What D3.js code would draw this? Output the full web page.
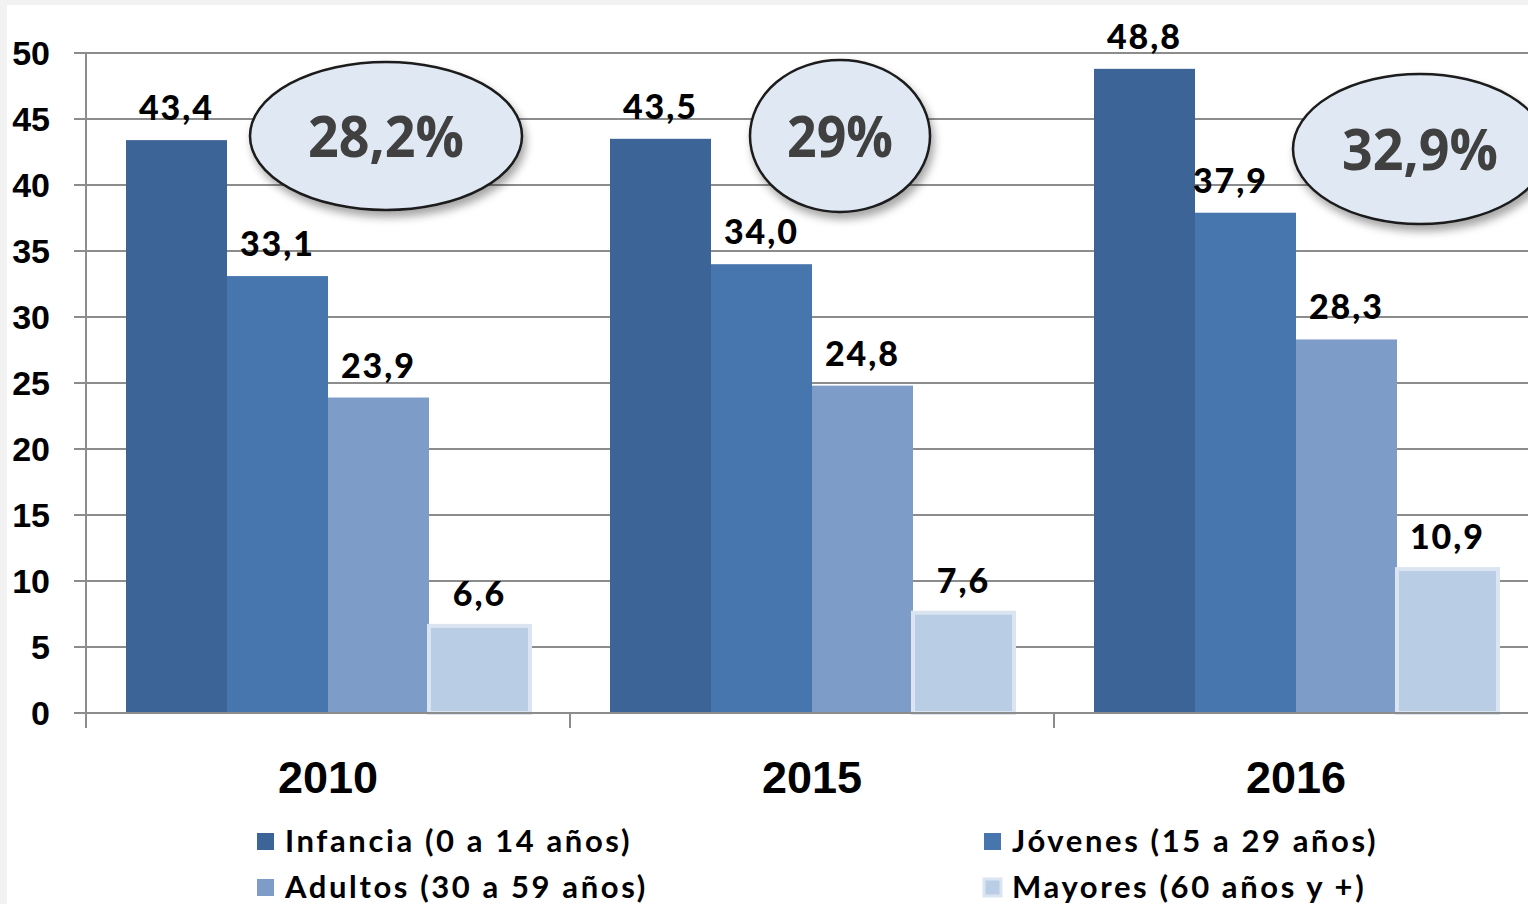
<!DOCTYPE html>
<html>
<head>
<meta charset="utf-8">
<script src="https://cdn.jsdelivr.net/npm/d3@7"></script>
<style>
  html, body { margin: 0; padding: 0; background: #f2f2f2; }
  svg { display: block; }
</style>
</head>
<body>
<div id="chart"></div>
<script>
// chart values
const years = ['2010', '2015', '2016'];
const seriesNames = ['Infancia (0 a 14 años)', 'Jóvenes (15 a 29 años)', 'Adultos (30 a 59 años)', 'Mayores (60 años y +)'];
const infancia = [43.4, 43.5, 48.8];
const jovenes = [33.1, 34.0, 37.9];
const adultos = [23.9, 24.8, 28.3];
const mayores = [6.6, 7.6, 10.9];
const shares = ['28,2%', '29%', '32,9%'];
const yTicks = [0, 5, 10, 15, 20, 25, 30, 35, 40, 45, 50];

const colors = ['#3c6496', '#4776ae', '#7e9cc8', '#b9cde5'];

const width = 1528, height = 904;
const svg = d3.select('#chart').append('svg')
    .attr('width', width)
    .attr('height', height);

// shadow for the bubbles
const defs = svg.append('defs');
const f = defs.append('filter').attr('id', 'shadow')
    .attr('x', '-20%').attr('y', '-20%').attr('width', '150%').attr('height', '160%');
f.append('feDropShadow')
    .attr('dx', 3).attr('dy', 6).attr('stdDeviation', 4)
    .attr('flood-color', '#000').attr('flood-opacity', 0.35);

svg.append('rect')
    .attr('x', 7).attr('y', 5)
    .attr('width', width - 7).attr('height', height - 5)
    .attr('fill', '#fff');

const bandW = 484;
const x0 = d3.scaleBand().domain(years).range([86, 86 + bandW * years.length]);
const x1 = d3.scaleBand().domain(d3.range(4)).range([40, bandW - 40]);
const y = d3.scaleLinear().domain([0, 50]).range([713, 53]);

const rows = years.map((yr, i) => ({
    year: yr,
    values: [infancia[i], jovenes[i], adultos[i], mayores[i]]
}));

// grid lines
svg.append('g').selectAll('line')
    .data(yTicks)
    .enter().append('line')
    .attr('x1', 74).attr('x2', width)
    .attr('y1', d => y(d)).attr('y2', d => y(d))
    .attr('stroke', '#8c8c8c')
    .attr('stroke-width', 2);

// y axis line
svg.append('line')
    .attr('x1', 86).attr('x2', 86)
    .attr('y1', y(50)).attr('y2', 728)
    .attr('stroke', '#8c8c8c').attr('stroke-width', 2);

// category ticks
svg.append('g').selectAll('line')
    .data(years.slice(1))
    .enter().append('line')
    .attr('x1', d => x0(d)).attr('x2', d => x0(d))
    .attr('y1', y(0)).attr('y2', 728)
    .attr('stroke', '#8c8c8c').attr('stroke-width', 2);

// y tick labels
svg.append('g').selectAll('text')
    .data(yTicks)
    .enter().append('text')
    .attr('x', 50)
    .attr('y', d => y(d))
    .attr('dy', '0.36em')
    .attr('text-anchor', 'end')
    .attr('font-family', '"Liberation Sans", Arial, sans-serif')
    .attr('font-weight', 'bold')
    .attr('font-size', 34)
    .attr('fill', '#000')
    .text(d => d);

// bars
const groups = svg.append('g').selectAll('g')
    .data(rows)
    .enter().append('g')
    .attr('transform', d => `translate(${x0(d.year)},0)`);

groups.selectAll('rect')
    .data(d => d.values.map((v, k) => ({ v, k })))
    .enter().append('rect')
    .attr('x', d => x1(d.k))
    .attr('y', d => y(d.v))
    .attr('width', x1.bandwidth())
    .attr('height', d => y(0) - y(d.v))
    .attr('fill', d => colors[d.k])
    .attr('stroke', d => d.k === 3 ? '#dbe5f1' : 'none')
    .attr('stroke-width', d => d.k === 3 ? 4 : 0);

// x axis line over the bars
svg.append('line')
    .attr('x1', 74).attr('x2', width)
    .attr('y1', y(0)).attr('y2', y(0))
    .attr('stroke', '#8c8c8c').attr('stroke-width', 2);

// value labels
const fmt = v => v.toFixed(1).replace('.', ',');
groups.selectAll('text.val')
    .data(d => d.values.map((v, k) => ({ v, k, year: d.year })))
    .enter().append('text')
    .attr('class', 'val')
    .attr('x', d => x1(d.k) + x1.bandwidth() / 2 + (d.year === '2016' && d.k === 1 ? -15 : 0))
    .attr('y', d => y(d.v) - 20)
    .attr('text-anchor', 'middle')
    .attr('font-family', 'Lato, sans-serif')
    .attr('font-weight', 900)
    .attr('font-size', 34)
    .attr('letter-spacing', 2)
    .attr('fill', '#000')
    .text(d => fmt(d.v));

// share bubbles
const bubbleSpots = [
    { dx: 300, cy: 136, rx: 136, ry: 74, tw: 156 },
    { dx: 270, cy: 136, rx: 90, ry: 76, tw: 106 },
    { dx: 366, cy: 149, rx: 127, ry: 75, tw: 156 }
];
const bubbles = svg.append('g').selectAll('g')
    .data(shares)
    .enter().append('g')
    .attr('transform', (d, i) => `translate(${x0(years[i]) + bubbleSpots[i].dx},${bubbleSpots[i].cy})`);

bubbles.append('ellipse')
    .attr('rx', (d, i) => bubbleSpots[i].rx)
    .attr('ry', (d, i) => bubbleSpots[i].ry)
    .attr('fill', '#dfe8f3')
    .attr('stroke', '#1a1a1a')
    .attr('stroke-width', 2.5)
    .attr('filter', 'url(#shadow)');

bubbles.append('text')
    .attr('y', 21)
    .attr('text-anchor', 'middle')
    .attr('font-family', '"Open Sans", sans-serif')
    .attr('font-weight', 700)
    .attr('font-size', 57)
    .attr('fill', '#404040')
    .attr('textLength', (d, i) => bubbleSpots[i].tw)
    .attr('lengthAdjust', 'spacingAndGlyphs')
    .text(d => d);

// category labels
svg.append('g').selectAll('text')
    .data(years)
    .enter().append('text')
    .attr('x', d => x0(d) + bandW / 2)
    .attr('y', 793)
    .attr('text-anchor', 'middle')
    .attr('font-family', '"Liberation Sans", Arial, sans-serif')
    .attr('font-weight', 'bold')
    .attr('font-size', 45)
    .attr('fill', '#000')
    .text(d => d);

// legend (two columns)
const legendPos = [[257, 833], [984, 833], [257, 879], [984, 879]];
const legend = svg.append('g').selectAll('g')
    .data(seriesNames)
    .enter().append('g')
    .attr('transform', (d, i) => `translate(${legendPos[i][0]},${legendPos[i][1]})`);

legend.append('rect')
    .attr('width', 17).attr('height', 17)
    .attr('fill', (d, i) => colors[i])
    .attr('stroke', (d, i) => i === 3 ? '#dbe5f1' : 'none')
    .attr('stroke-width', 3);

legend.append('text')
    .attr('x', 28)
    .attr('y', 19)
    .attr('font-family', 'Lato, sans-serif')
    .attr('font-weight', 700)
    .attr('font-size', 31)
    .attr('letter-spacing', 2.6)
    .attr('fill', '#000')
    .text(d => d);
</script>
</body>
</html>
